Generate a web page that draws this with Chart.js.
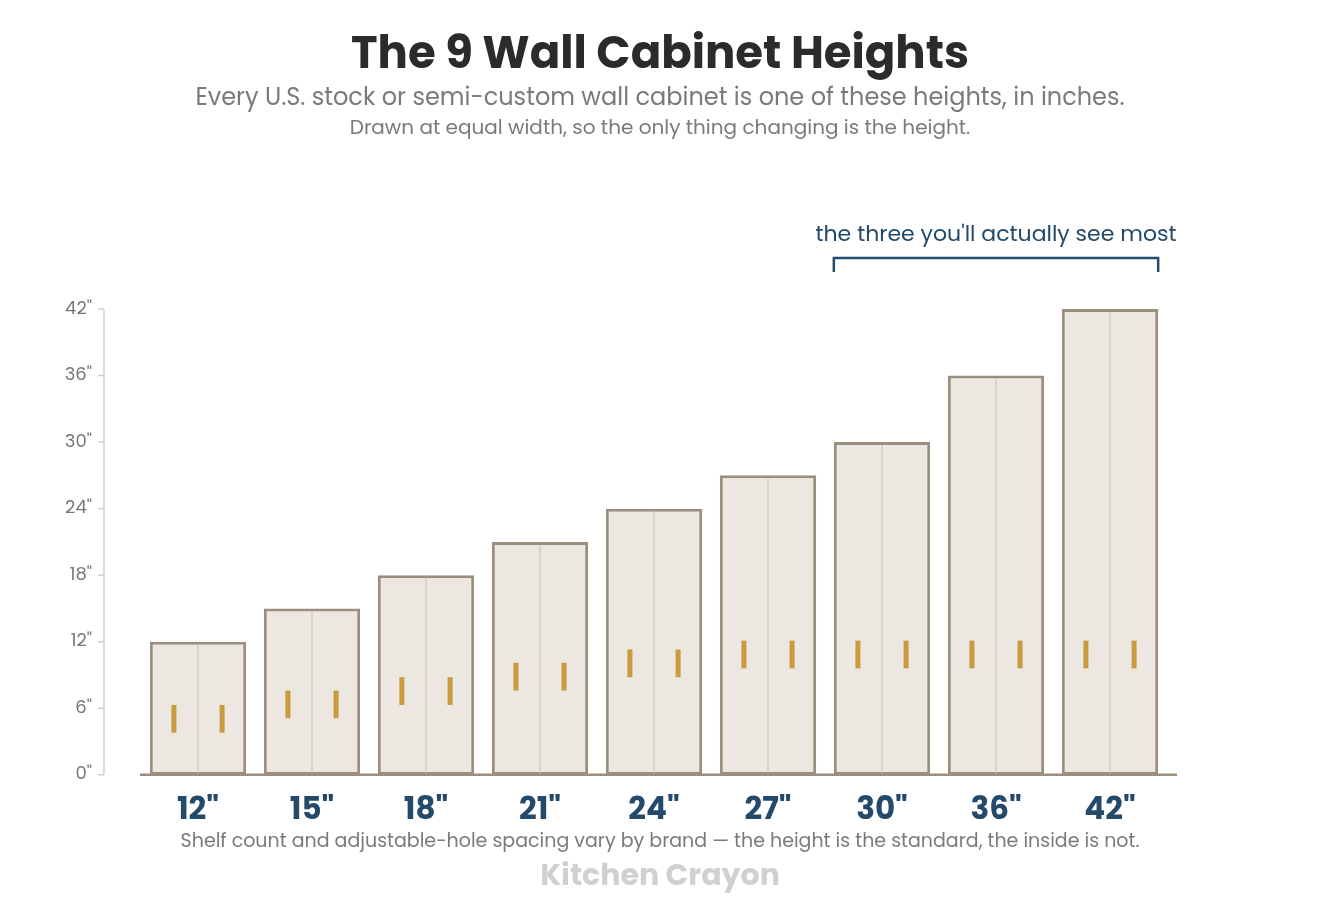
<!DOCTYPE html>
<html>
<head>
<meta charset="utf-8">
<script src="https://cdn.jsdelivr.net/npm/chart.js@4"></script>
<style>
	html, body { margin: 0; padding: 0; background: #fff; }
	#wrap { width: 1320px; height: 900px; }
</style>
</head>
<body>
<div id="wrap"><canvas id="cabinetChart" width="1320" height="900"></canvas></div>
<script>
const categories = ['12"', '15"', '18"', '21"', '24"', '27"', '30"', '36"', '42"']
const heights = [12, 15, 18, 21, 24, 27, 30, 36, 42]
// adjustable-hole strips, [bottom, top] in inches
const holeLow = [3.8, 5.1, 6.3, 7.6, 8.8, 9.6, 9.6, 9.6, 9.6]
const holeHigh = [6.3, 7.6, 8.8, 10.1, 11.3, 12.1, 12.1, 12.1, 12.1]
const yTicks = [0, 6, 12, 18, 24, 30, 36, 42]
const highlightFrom = 6
const highlightTo = 8

const FONT = 'Poppins, Inter, "Open Sans", sans-serif'

const decor = {
	id: 'decor',
	beforeDatasetsDraw(chart) {
		const { ctx, chartArea, scales } = chart
		const y = scales.y
		const axisX = chartArea.left - 37
		ctx.save()
		// y axis
		ctx.strokeStyle = '#cfcfcf'
		ctx.lineWidth = 1.5
		ctx.beginPath()
		ctx.moveTo(axisX, y.getPixelForValue(42))
		ctx.lineTo(axisX, y.getPixelForValue(0))
		ctx.stroke()
		ctx.fillStyle = '#777'
		ctx.font = '18px ' + FONT
		ctx.textAlign = 'right'
		ctx.textBaseline = 'middle'
		yTicks.forEach(v => {
			const py = y.getPixelForValue(v)
			ctx.beginPath()
			ctx.moveTo(axisX - 6, py)
			ctx.lineTo(axisX, py)
			ctx.stroke()
			ctx.fillText(v + '"', axisX - 12, py)
		})
		ctx.restore()
	},
	afterDatasetsDraw(chart) {
		const { ctx, chartArea, scales } = chart
		const y = scales.y
		const meta = chart.getDatasetMeta(0)
		ctx.save()
		meta.data.forEach((bar, i) => {
			const top = y.getPixelForValue(heights[i])
			const bottom = y.getPixelForValue(0)
			// door seam
			ctx.strokeStyle = '#d4cdc3'
			ctx.lineWidth = 1.5
			ctx.beginPath()
			ctx.moveTo(bar.x, top + 3)
			ctx.lineTo(bar.x, bottom - 2)
			ctx.stroke()
			// handles
			ctx.fillStyle = '#c99a3e'
			const off = bar.width * 0.25
			const hy1 = y.getPixelForValue(holeHigh[i])
			const hy0 = y.getPixelForValue(holeLow[i])
			;[-off, off].forEach(dx => ctx.fillRect(bar.x + dx - 2.5, hy1, 5, hy0 - hy1))
		})
		// x axis line
		const baseY = y.getPixelForValue(0)
		ctx.strokeStyle = '#9a8f7e'
		ctx.lineWidth = 2.5
		ctx.beginPath()
		ctx.moveTo(chartArea.left - 1, baseY)
		ctx.lineTo(chartArea.right + 10, baseY)
		ctx.stroke()
		// bracket over the common three
		const a = meta.data[highlightFrom], b = meta.data[highlightTo]
		const bx0 = a.x - a.width / 2, bx1 = b.x + b.width / 2
		const by = y.getPixelForValue(42) - 51
		ctx.strokeStyle = '#234a6b'
		ctx.lineWidth = 2.5
		ctx.beginPath()
		ctx.moveTo(bx0, by + 14)
		ctx.lineTo(bx0, by)
		ctx.lineTo(bx1, by)
		ctx.lineTo(bx1, by + 14)
		ctx.stroke()
		ctx.fillStyle = '#234a6b'
		ctx.font = '22px ' + FONT
		ctx.textAlign = 'center'
		ctx.textBaseline = 'middle'
		ctx.fillText("the three you'll actually see most", (bx0 + bx1) / 2, by - 23)
		// titles and notes
		const cx = chart.width / 2
		ctx.fillStyle = '#2b2b2b'
		ctx.font = 'bold 45px ' + FONT
		ctx.fillText('The 9 Wall Cabinet Heights', cx, 57)
		ctx.fillStyle = '#7a7a7a'
		ctx.font = '24px ' + FONT
		ctx.fillText('Every U.S. stock or semi-custom wall cabinet is one of these heights, in inches.', cx, 99)
		ctx.font = '20px ' + FONT
		ctx.fillText('Drawn at equal width, so the only thing changing is the height.', cx, 129)
		ctx.fillStyle = '#7a7a7a'
		ctx.font = '19px ' + FONT
		ctx.fillText('Shelf count and adjustable-hole spacing vary by brand \u2014 the height is the standard, the inside is not.', cx, 842)
		ctx.fillStyle = '#d0d0d0'
		ctx.font = 'bold 30px ' + FONT
		ctx.fillText('Kitchen Crayon', cx, 877)
		ctx.restore()
	},
}

new Chart(document.getElementById('cabinetChart').getContext('2d'), {
	type: 'bar',
	data: {
		labels: categories,
		datasets: [
			{
				data: heights,
				backgroundColor: '#ece7e0',
				borderColor: '#9a8f7e',
				borderWidth: 3,
				borderSkipped: false,
				barPercentage: 0.845,
				categoryPercentage: 1,
			},
		],
	},
	options: {
		responsive: false,
		animation: false,
		devicePixelRatio: 1,
		layout: { padding: { left: 141, right: 153, top: 309, bottom: 60 } },
		plugins: { legend: { display: false }, tooltip: { enabled: false } },
		scales: {
			x: {
				grid: { display: false },
				border: { display: false },
				ticks: { color: '#234a6b', padding: 10, font: { family: FONT, size: 31, weight: 'bold' } },
			},
			y: {
				display: false,
				min: 0,
				max: 42,
			},
		},
	},
	plugins: [decor],
})
</script>
</body>
</html>
